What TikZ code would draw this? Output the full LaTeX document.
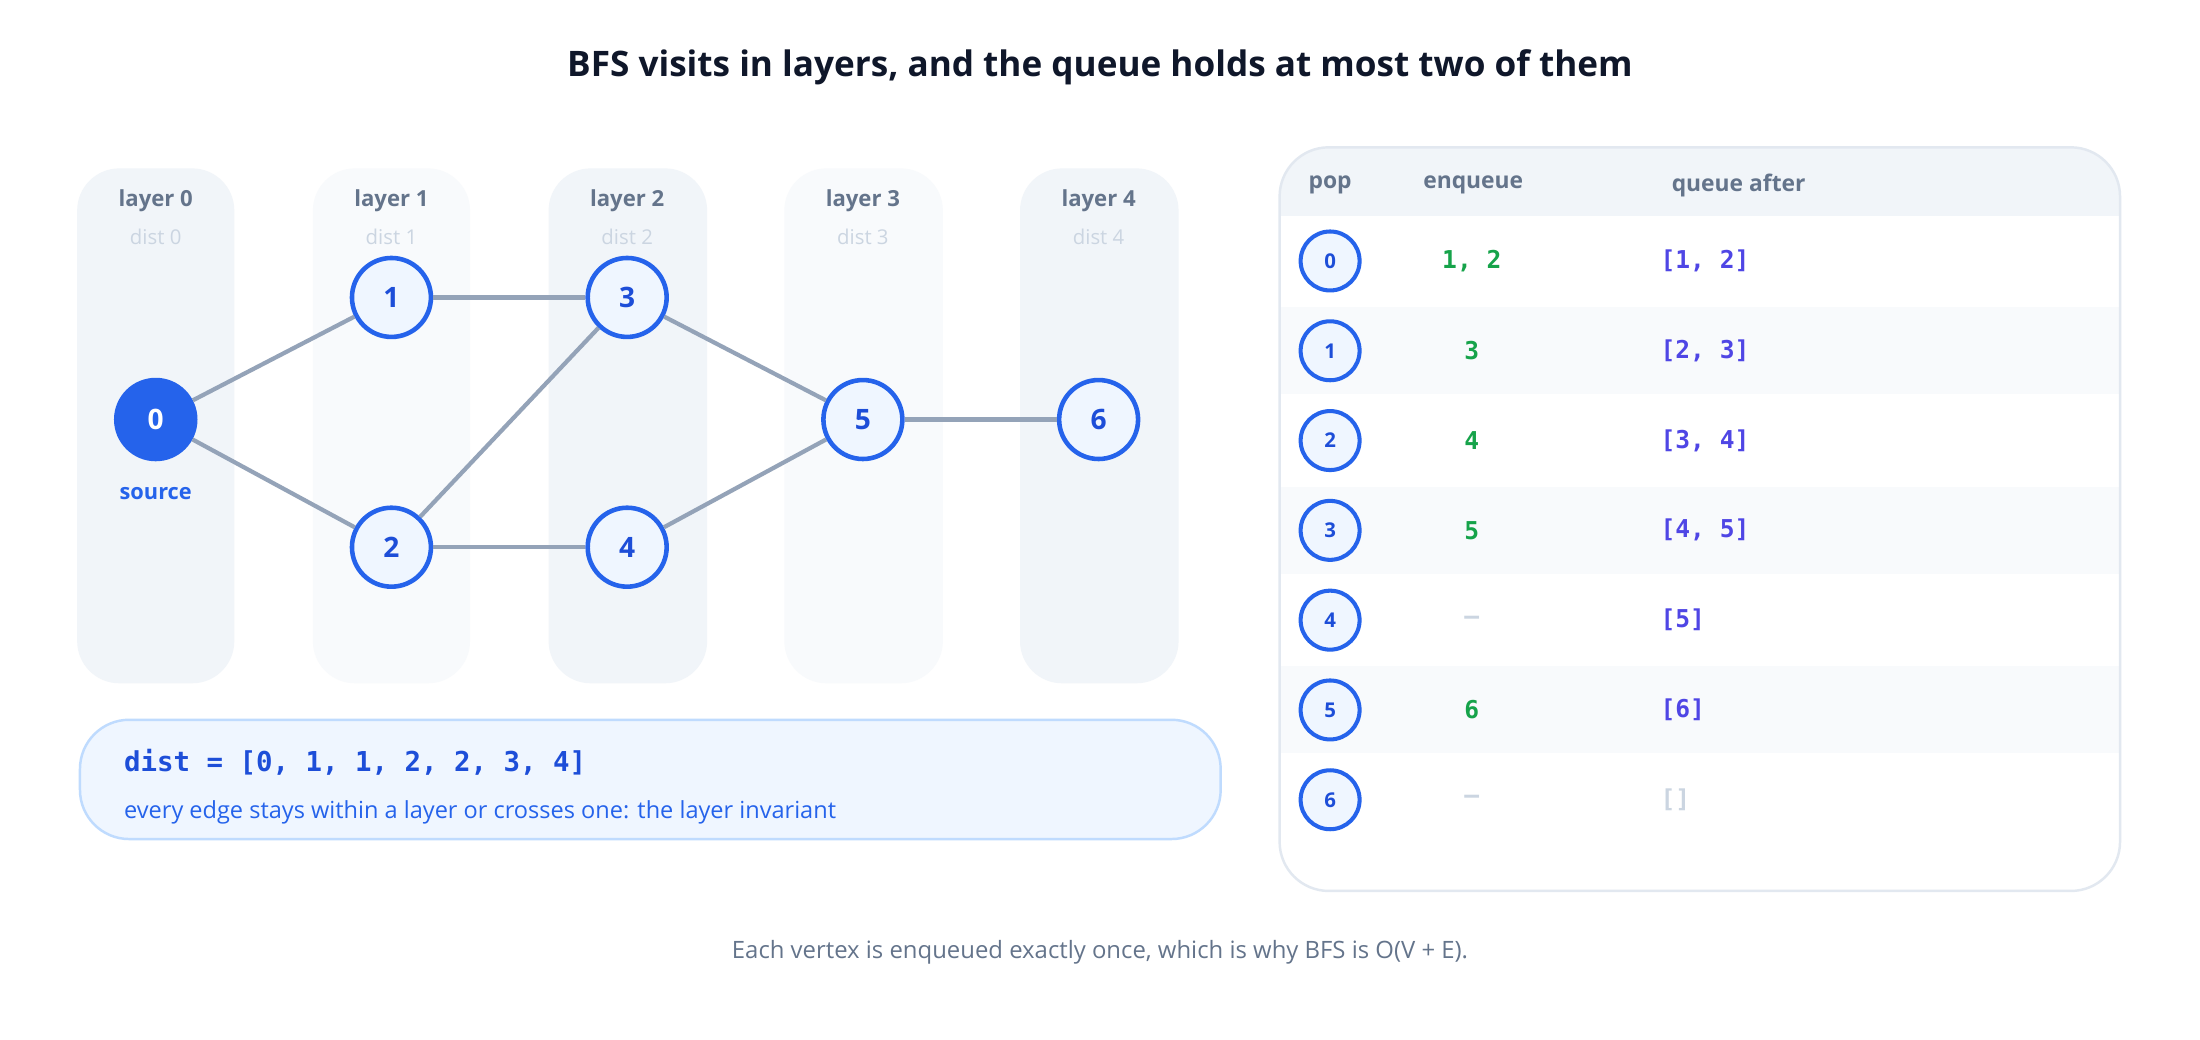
\documentclass[tikz,border=0pt]{standalone}
\usepackage{fontspec}
\setmainfont{Open Sans}
\setmonofont{DejaVu Sans Mono}
\definecolor{ink}{HTML}{0F172A}
\definecolor{slatemid}{HTML}{64748B}
\definecolor{slatelite}{HTML}{CBD5E1}
\definecolor{slateedge}{HTML}{94A3B8}
\definecolor{slateline}{HTML}{E2E8F0}
\definecolor{bandA}{HTML}{F1F5F9}
\definecolor{bandB}{HTML}{F8FAFC}
\definecolor{bluemid}{HTML}{2563EB}
\definecolor{bluedark}{HTML}{1D4ED8}
\definecolor{bluepale}{HTML}{EFF6FF}
\definecolor{blueline}{HTML}{BFDBFE}
\definecolor{greenq}{HTML}{16A34A}
\definecolor{indigoq}{HTML}{4F46E5}
\newcommand\fs[1]{\fontsize{#1}{#1}\selectfont}
\tikzset{
  vtx/.style={circle, draw=bluemid, line width=1.3pt, fill=bluepale, text=bluedark,
    minimum size=0.79cm, inner sep=0pt, font=\fs{8pt}\bfseries},
  popv/.style={circle, draw=bluemid, line width=1.15pt, fill=bluepale, text=bluedark,
    minimum size=0.59cm, inner sep=0pt, font=\fs{5.8pt}\bfseries},
  layerlbl/.style={text=slatemid, font=\fs{6.3pt}\bfseries},
  distlbl/.style={text=slatelite, font=\fs{5.8pt}},
  headlbl/.style={text=slatemid, font=\fs{6.5pt}\bfseries},
  enq/.style={text=greenq, font=\fs{7pt}\ttfamily\bfseries},
  que/.style={anchor=west, text=indigoq, font=\fs{7pt}\ttfamily\bfseries},
  none/.style={text=slatelite, font=\fs{7pt}\ttfamily\bfseries}
}
\begin{document}
\begin{tikzpicture}[x=0.014031cm, y=-0.014031cm, every node/.style={inner sep=0pt}]
  \useasboundingbox[fill=white] (0,0) rectangle (1568,741);
  \node[text=ink, font=\fs{10pt}\bfseries] (title) at (784,48) {BFS visits in layers, and the queue holds at most two of them};

  \fill[bandA, rounded corners=12] (55,120) rectangle (167,487);
  \fill[bandB, rounded corners=12] (223,120) rectangle (335,487);
  \fill[bandA, rounded corners=12] (391,120) rectangle (504,487);
  \fill[bandB, rounded corners=12] (559,120) rectangle (672,487);
  \fill[bandA, rounded corners=12] (727,120) rectangle (840,487);
  \node[layerlbl] (L0) at (111,143) {layer 0};
  \node[layerlbl] (L1) at (279,143) {layer 1};
  \node[layerlbl] (L2) at (447,143) {layer 2};
  \node[layerlbl] (L3) at (615,143) {layer 3};
  \node[layerlbl] (L4) at (783,143) {layer 4};
  \node[distlbl] (D0) at (111,169) {dist 0};
  \node[distlbl] (D1) at (279,169) {dist 1};
  \node[distlbl] (D2) at (447,169) {dist 2};
  \node[distlbl] (D3) at (615,169) {dist 3};
  \node[distlbl] (D4) at (783,169) {dist 4};

  \node[vtx, fill=bluemid, text=white] (N0) at (111,299) {0};
  \node[vtx] (N1) at (279,212) {1};
  \node[vtx] (N2) at (279,390) {2};
  \node[vtx] (N3) at (447,212) {3};
  \node[vtx] (N4) at (447,390) {4};
  \node[vtx] (N5) at (615,299) {5};
  \node[vtx] (N6) at (783,299) {6};
  \node[text=bluemid, font=\fs{6.2pt}\bfseries] (src) at (111,352) {source};
  \path[draw=slateedge, line width=1.2pt] (N0) edge (N1) (N0) edge (N2)
    (N1) edge (N3) (N2) edge (N3) (N2) edge (N4)
    (N3) edge (N5) (N4) edge (N5) (N5) edge (N6);

  \draw[blueline, fill=bluepale, line width=0.7pt, rounded corners=14] (57,513) rectangle (870,598);
  \node[anchor=west, text=bluedark, font=\fs{7.8pt}\ttfamily\bfseries] (dist) at (88,543) {dist = [0, 1, 1, 2, 2, 3, 4]};
  \node[anchor=west, text=bluemid, font=\fs{6.7pt}] (note) at (88,579) {every edge stays within a layer or crosses one: the layer invariant};

  \begin{scope}
    \clip[rounded corners=14] (912,105) rectangle (1511,635);
    \fill[bandA] (912,105) rectangle (1511,154);
    \fill[bandB] (912,219) rectangle (1511,281);
    \fill[bandB] (912,347) rectangle (1511,409);
    \fill[bandB] (912,475) rectangle (1511,537);
  \end{scope}
  \draw[slateline, line width=0.7pt, rounded corners=14] (912,105) rectangle (1511,635);
  \node[headlbl] (Hpop) at (948,132) {pop};
  \node[headlbl] (Henq) at (1050,132) {enqueue};
  \node[headlbl, anchor=west] (Hque) at (1191,132) {queue after};

  \node[popv] (P0) at (948,186) {0};
  \node[enq] (E0) at (1049,186) {1, 2};
  \node[que] (Q0) at (1183,186) {[1, 2]};
  \node[popv] (P1) at (948,250) {1};
  \node[enq] (E1) at (1049,250) {3};
  \node[que] (Q1) at (1183,250) {[2, 3]};
  \node[popv] (P2) at (948,314) {2};
  \node[enq] (E2) at (1049,314) {4};
  \node[que] (Q2) at (1183,314) {[3, 4]};
  \node[popv] (P3) at (948,378) {3};
  \node[enq] (E3) at (1049,378) {5};
  \node[que] (Q3) at (1183,378) {[4, 5]};
  \node[popv] (P4) at (948,442) {4};
  \node[none] (E4) at (1049,442) {–};
  \node[que] (Q4) at (1183,442) {[5]};
  \node[popv] (P5) at (948,506) {5};
  \node[enq] (E5) at (1049,506) {6};
  \node[que] (Q5) at (1183,506) {[6]};
  \node[popv] (P6) at (948,570) {6};
  \node[none] (E6) at (1049,570) {–};
  \node[que, text=slatelite] (Q6) at (1183,570) {[]};

  \node[text=slatemid, font=\fs{6.8pt}] (foot) at (784,679) {Each vertex is enqueued exactly once, which is why BFS is O(V + E).};
\end{tikzpicture}
\end{document}
